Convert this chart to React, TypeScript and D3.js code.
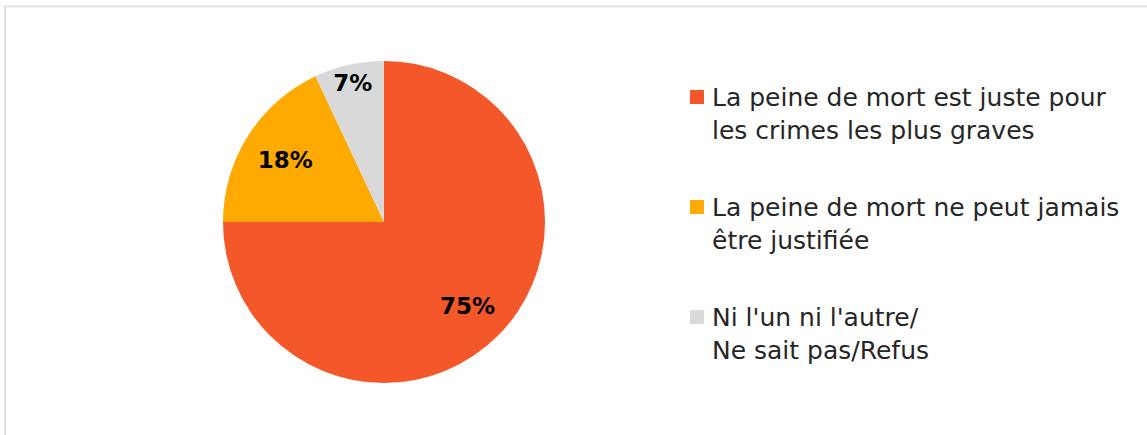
import React from "react";
import * as d3 from "d3";

const categories = [
  "La peine de mort est juste pour les crimes les plus graves",
  "La peine de mort ne peut jamais être justifiée",
  "Ni l'un ni l'autre/ Ne sait pas/Refus",
];
const values = [75, 18, 7];
const labels = ["75%", "18%", "7%"];
const legendLines = [
  ["La peine de mort est juste pour", "les crimes les plus graves"],
  ["La peine de mort ne peut jamais", "être justifiée"],
  ["Ni l'un ni l'autre/", "Ne sait pas/Refus"],
];
const colors = ["#F4572A", "#FEAA00", "#D9D9D9"];
const labelRadius = [118, 117, 143];

const W = 1147;
const H = 435;
const cx = 384;
const cy = 222;
const R = 161;
const FONT = "'DejaVu Sans', sans-serif";

export default function App() {
  const pie = d3.pie<number>().sort(null).value((d) => d)(values);
  const arc = d3.arc<d3.PieArcDatum<number>>().innerRadius(0).outerRadius(R);
  const legendY = [106, 216, 326];
  return (
    <svg
      width={W}
      height={H}
      style={{ position: "fixed", left: 0, top: 0, background: "#fff" }}
    >
      <rect x={5} y={6.5} width={W + 20} height={H + 20} fill="#fff" stroke="#D9D9D9" strokeWidth={1.5} />
      <g transform={`translate(${cx},${cy})`}>
        {pie.map((p, i) => (
          <path key={categories[i]} d={arc(p) || ""} fill={colors[i]} />
        ))}
        {pie.map((p, i) => {
          const a = (p.startAngle + p.endAngle) / 2;
          const r = labelRadius[i];
          const x = Math.sin(a) * r;
          const y = -Math.cos(a) * r;
          return (
            <text
              key={labels[i]}
              x={x}
              y={y + 1}
              textAnchor="middle"
              dominantBaseline="central"
              fontFamily={FONT}
              fontWeight="bold"
              fontSize={23}
              fill="#000"
            >
              {labels[i]}
            </text>
          );
        })}
      </g>
      {legendLines.map((lines, i) => (
        <g key={categories[i]}>
          <rect x={690} y={legendY[i] - 16} width={14} height={14} fill={colors[i]} />
          {lines.map((l, j) => (
            <text
              key={l}
              x={712}
              y={legendY[i] + j * 33}
              fontFamily={FONT}
              fontSize={25}
              fill="#262626"
            >
              {l}
            </text>
          ))}
        </g>
      ))}
    </svg>
  );
}
